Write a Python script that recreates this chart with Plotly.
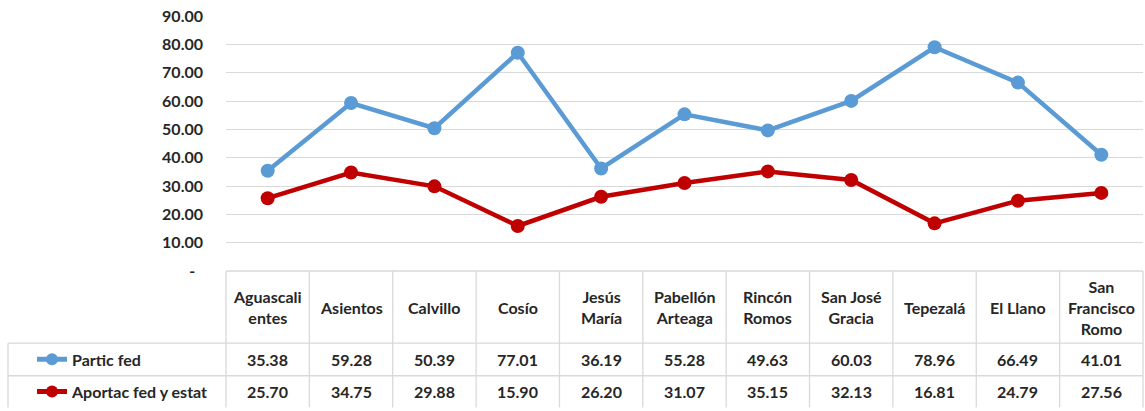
import plotly.graph_objects as go

municipios = ["Aguascalientes", "Asientos", "Calvillo", "Cosío", "Jesús María",
              "Pabellón Arteaga", "Rincón Romos", "San José Gracia", "Tepezalá",
              "El Llano", "San Francisco Romo"]
header_labels = ["Aguascali<br>entes", "Asientos", "Calvillo", "Cosío", "Jesús<br>María",
                 "Pabellón<br>Arteaga", "Rincón<br>Romos", "San José<br>Gracia", "Tepezalá",
                 "El Llano", "San<br>Francisco<br>Romo"]
partic_fed = [35.38, 59.28, 50.39, 77.01, 36.19, 55.28, 49.63, 60.03, 78.96, 66.49, 41.01]
aportac = [25.70, 34.75, 29.88, 15.90, 26.20, 31.07, 35.15, 32.13, 16.81, 24.79, 27.56]
series_names = ["Partic fed", "Aportac fed y estat"]
tick_vals = [0, 10, 20, 30, 40, 50, 60, 70, 80, 90]
tick_text = ["-\u00a0\u00a0", "10.00", "20.00", "30.00", "40.00", "50.00",
             "60.00", "70.00", "80.00", "90.00"]

BLUE = "#5B9BD5"
RED = "#C00000"
GRID = "#D9D9D9"
TXT = "#262626"
FONT = "Lato"

W, H = 1145, 411
ML, MR, MT, MB = 226, 2, 16, 137
PW = W - ML - MR
PH = H - MT - MB


def py(pix):
    """pixel y (from top) -> paper y"""
    return (H - MB - pix) / PH


def px(pix):
    return (pix - ML) / PW


fig = go.Figure()
fig.add_trace(go.Scatter(x=municipios, y=partic_fed, name=series_names[0], mode="lines+markers",
                         line=dict(color=BLUE, width=4.5), marker=dict(size=14, color=BLUE),
                         legend="legend"))
fig.add_trace(go.Scatter(x=municipios, y=aportac, name=series_names[1], mode="lines+markers",
                         line=dict(color=RED, width=4.5), marker=dict(size=14, color=RED),
                         legend="legend2"))

n = len(municipios)
shapes = []
line_style = dict(color=GRID, width=1.3)
row_top, row1, row2, row_bot = 274, 347, 380, 412
# horizontal borders
shapes.append(dict(type="line", xref="paper", yref="paper", x0=0, x1=1, y0=py(row_top), y1=py(row_top), line=line_style))
for yy in (row1, row2):
    shapes.append(dict(type="line", xref="paper", yref="paper", x0=px(8), x1=1, y0=py(yy), y1=py(yy), line=line_style))
# vertical borders
for i in range(n + 1):
    xx = i / n
    shapes.append(dict(type="line", xref="paper", yref="paper", x0=xx, x1=xx, y0=py(row_top), y1=py(row_bot), line=line_style))
shapes.append(dict(type="line", xref="paper", yref="paper", x0=px(8), x1=px(8), y0=py(row1), y1=py(row_bot), line=line_style))

annotations = []
hdr_c = (row_top + row1) / 2
r1_c = (row1 + row2) / 2
r2_c = (row2 + row_bot) / 2
for i, m in enumerate(municipios):
    annotations.append(dict(x=m, xref="x", y=py(hdr_c), yref="paper", text=header_labels[i],
                            showarrow=False, xanchor="center", yanchor="middle",
                            font=dict(family=FONT, size=16, color=TXT, weight="bold")))
    annotations.append(dict(x=m, xref="x", y=py(r1_c), yref="paper", text=f"{partic_fed[i]:.2f}",
                            showarrow=False, xanchor="center", yanchor="middle",
                            font=dict(family=FONT, size=16, color=TXT, weight="bold")))
    annotations.append(dict(x=m, xref="x", y=py(r2_c), yref="paper", text=f"{aportac[i]:.2f}",
                            showarrow=False, xanchor="center", yanchor="middle",
                            font=dict(family=FONT, size=16, color=TXT, weight="bold")))

leg_common = dict(xref="paper", yref="paper", xanchor="left", yanchor="middle",
                  bgcolor="rgba(0,0,0,0)", borderwidth=0,
                  font=dict(family=FONT, size=16, color=TXT, weight="bold"),
                  itemsizing="constant")

fig.update_layout(
    width=W, height=H,
    margin=dict(l=ML, r=MR, t=MT, b=MB),
    paper_bgcolor="white", plot_bgcolor="white",
    showlegend=True,
    legend=dict(x=px(32), y=py(r1_c), **leg_common),
    legend2=dict(x=px(32), y=py(r2_c), **leg_common),
    xaxis=dict(type="category", range=[-0.5, n - 0.5], showticklabels=False, showgrid=False,
               zeroline=False, showline=False, ticks=""),
    yaxis=dict(range=[0, 90], tickvals=tick_vals, ticktext=tick_text, showgrid=True,
               gridcolor=GRID, gridwidth=1.3, zeroline=False, showline=False, ticks="",
               ticklabelstandoff=22,
               tickfont=dict(family=FONT, size=16, color=TXT, weight="bold")),
    shapes=shapes,
    annotations=annotations,
)

fig.write_html("out.html", config={"displayModeBar": False},
               post_script="document.body.style.margin='0';document.body.style.overflow='hidden';")
